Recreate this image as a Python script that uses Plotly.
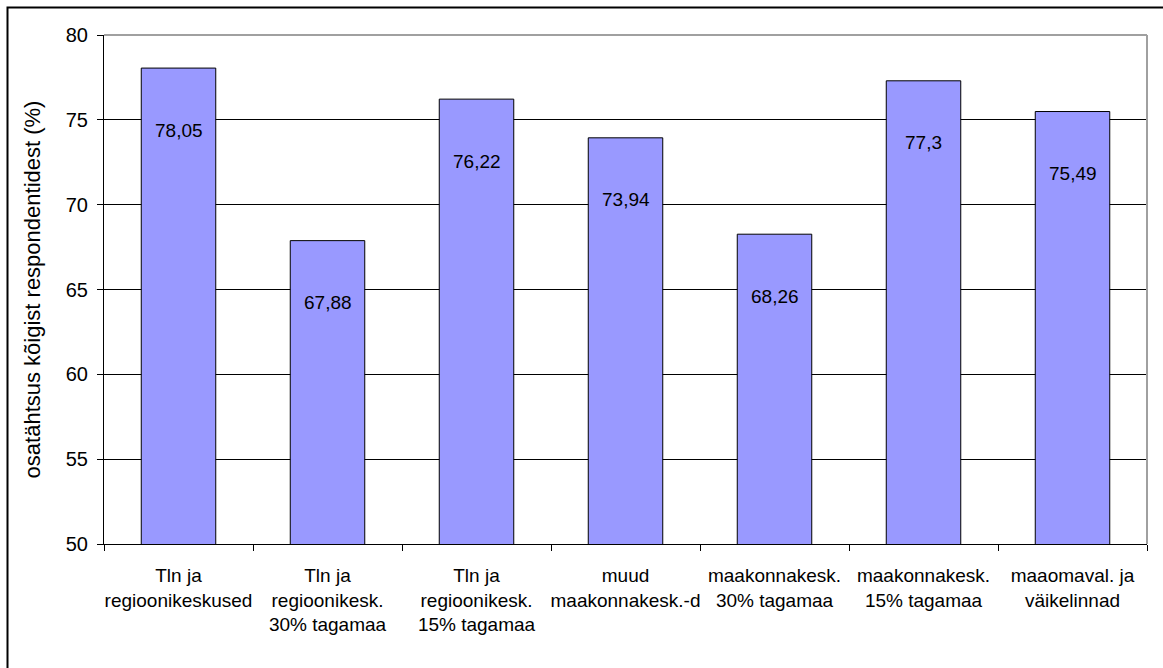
import plotly.graph_objects as go

categories = [
    "Tln ja<br>regioonikeskused",
    "Tln ja<br>regioonikesk.<br>30% tagamaa",
    "Tln ja<br>regioonikesk.<br>15% tagamaa",
    "muud<br>maakonnakesk.-d",
    "maakonnakesk.<br>30% tagamaa",
    "maakonnakesk.<br>15% tagamaa",
    "maaomaval. ja<br>väikelinnad",
]
values = [78.05, 67.88, 76.22, 73.94, 68.26, 77.3, 75.49]
y_ticks = [50, 55, 60, 65, 70, 75, 80]
y_title = "osatähtsus kõigist respondentidest (%)"

FONT = "Liberation Sans, Arial, sans-serif"

fig = go.Figure()
fig.add_trace(go.Bar(
    x=categories, y=values,
    marker=dict(color="#9999FF", line=dict(color="black", width=1)),
    hoverinfo="x+y",
))

for c, v in zip(categories, values):
    fig.add_annotation(x=c, y=v, text=f"{v:g}".replace(".", ","),
                       showarrow=False, yshift=-62, yanchor="middle",
                       font=dict(family=FONT, size=19, color="black"))

L, R, T, B = 104, 16, 35, 124
W, H = 1163, 668
pw, ph = W - L - R, H - T - B

def px2x(p):
    return (p - L) / pw

def py2y(p):
    return (H - B - p) / ph

fig.update_layout(
    width=W, height=H,
    margin=dict(l=L, r=R, t=T, b=B),
    paper_bgcolor="white", plot_bgcolor="white",
    bargap=0.5, showlegend=False,
    font=dict(family=FONT, size=19, color="black"),
    xaxis=dict(
        tickson="boundaries", ticks="outside", ticklen=6, tickcolor="black",
        showline=True, linecolor="black", linewidth=1, showgrid=False,
        tickfont=dict(size=19), tickangle=0, ticklabelstandoff=14,
    ),
    yaxis=dict(
        range=[50, 80], tickvals=y_ticks, ticks="outside", ticklen=6,
        tickcolor="black", showline=True, linecolor="black", linewidth=1,
        showgrid=True, gridcolor="black", gridwidth=1, zeroline=False,
        tickfont=dict(size=20), ticklabelstandoff=5,
        title=dict(text=y_title, font=dict(size=22), standoff=19),
    ),
    shapes=[
        dict(type="line", xref="paper", yref="paper", x0=0, x1=1, y0=1, y1=1,
             line=dict(color="#A0A0A0", width=2), layer="above"),
        dict(type="line", xref="paper", yref="paper", x0=1, x1=1, y0=0, y1=1,
             line=dict(color="#A0A0A0", width=2), layer="above"),
        dict(type="rect", xref="paper", yref="paper",
             x0=px2x(7.5), x1=px2x(1200), y0=py2y(720), y1=py2y(7.5),
             line=dict(color="black", width=2), fillcolor="rgba(0,0,0,0)",
             layer="above"),
    ],
)

fig.write_html("out.html", config={"displayModeBar": False},
               post_script="document.body.style.margin='0';")
